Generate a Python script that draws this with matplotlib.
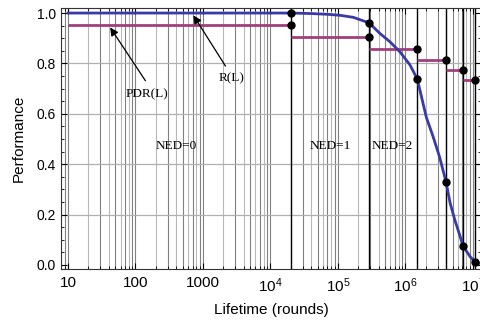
import numpy as np
import matplotlib
matplotlib.use("Agg")
import matplotlib.pyplot as plt
from matplotlib.ticker import LogLocator, FuncFormatter, MultipleLocator, NullFormatter

plt.rcParams['font.family'] = ['Liberation Sans', 'DejaVu Sans']
plt.rcParams['mathtext.fontset'] = 'custom'
plt.rcParams['mathtext.rm'] = 'Liberation Sans'
plt.rcParams['mathtext.it'] = 'Liberation Sans'

# NED boundaries (rounds)
boundaries = [2e4, 2.9e5, 1.5e6, 4.0e6, 7.1e6, 1.07e7]
pdr_levels = [0.952, 0.904, 0.857, 0.812, 0.775, 0.735]
r_at_bounds = [1.0, 0.961, 0.738, 0.33, 0.077, 0.013]

r_x = [10, 2e4, 4e4, 7e4, 1.07e5, 1.69e5, 2.9e5, 4.19e5, 5.9e5, 8.3e5, 1.17e6,
       1.5e6, 2.05e6, 2.57e6, 3.2e6, 4.0e6, 4.6e6, 5.4e6, 6.5e6, 7.1e6, 9.1e6,
       1.07e7, 1.3e7]
r_y = [1.0, 1.0, 0.998, 0.995, 0.991, 0.983, 0.961, 0.919, 0.886, 0.846, 0.794,
       0.738, 0.585, 0.51, 0.43, 0.33, 0.246, 0.179, 0.112, 0.077, 0.033,
       0.013, 0.005]

ned_labels = ["NED=0", "NED=1", "NED=2"]
ned_x = [400, 7.6e4, 6.3e5]

fig = plt.figure(figsize=(4.8, 3.25), dpi=100)
ax = fig.add_axes([61/480, 1-269/325, 420/480, 261/325])
ax.set_xscale('log')
ax.set_xlim(7.87, 1.32e7)
ax.set_ylim(-0.016, 1.02)

# grid
for dec in range(0, 8):
    for m in range(1, 10):
        v = m * 10**dec
        if 7.87 < v < 1.32e7:
            col = '#b8b8b8' if m % 2 == 0 else '#808080'
            ax.axvline(v, color=col, lw=0.8, zorder=0)
for yv in [0.2, 0.4, 0.6, 0.8]:
    ax.axhline(yv, color='#b0b0b0', lw=0.9, zorder=0)

# boundaries
for b in boundaries:
    ax.axvline(b, color='black', lw=1.0, zorder=1)

# PDR steps
starts = [10] + boundaries[:-1]
for s, e, lv in zip(starts, boundaries, pdr_levels):
    ax.plot([s, e], [lv, lv], color='#a0407a', lw=2.0, zorder=2, solid_capstyle='butt')

# R curve
ax.plot(r_x, r_y, color='#3a3aa6', lw=2.0, zorder=3)

# dots
ax.plot(boundaries, pdr_levels, 'o', color='black', ms=5, zorder=4)
ax.plot(boundaries, r_at_bounds, 'o', color='black', ms=5, zorder=4)

# annotations
serif = ['Liberation Serif', 'DejaVu Serif']
ax.annotate("", xy=(40, 0.952), xytext=(148, 0.722),
            arrowprops=dict(arrowstyle='-|>', color='black', lw=0.9, mutation_scale=12))
ax.text(148, 0.679, "PDR(L)", family=serif, fontsize=9.5, ha='center', va='center')
ax.annotate("", xy=(687, 1.0), xytext=(2270, 0.78),
            arrowprops=dict(arrowstyle='-|>', color='black', lw=0.9, mutation_scale=12))
ax.text(2690, 0.742, "R(L)", family=serif, fontsize=9.5, ha='center', va='center')
for t, xv in zip(ned_labels, ned_x):
    ax.text(xv, 0.472, t, family=serif, fontsize=9.5, ha='center', va='center')

# ticks
def fmt(v, pos):
    n = int(round(np.log10(v)))
    if n <= 3:
        return str(int(round(v)))
    return r"$10^{%d}$" % n
ax.xaxis.set_major_locator(LogLocator(base=10, numticks=20))
ax.xaxis.set_major_formatter(FuncFormatter(fmt))
ax.xaxis.set_minor_locator(LogLocator(base=10, subs=np.arange(2, 10), numticks=20))
ax.xaxis.set_minor_formatter(NullFormatter())
ax.yaxis.set_major_locator(MultipleLocator(0.2))
ax.yaxis.set_minor_locator(MultipleLocator(0.05))
ax.yaxis.set_major_formatter(FuncFormatter(lambda v, p: "%.1f" % v))
ax.tick_params(which='both', direction='in', top=True, right=True)
ax.tick_params(axis='y', labelsize=10)
ax.tick_params(axis='x', labelsize=11, pad=5)
ax.tick_params(which='major', length=4, width=0.8)
ax.tick_params(which='minor', length=2.5, width=0.6)
for sp in ax.spines.values():
    sp.set_linewidth(0.8)
    sp.set_color('#333333')

ax.set_xlabel("Lifetime (rounds)", fontsize=11, labelpad=6)
ax.set_ylabel("Performance", fontsize=11, labelpad=8)

fig.savefig("out.png", dpi=100)
